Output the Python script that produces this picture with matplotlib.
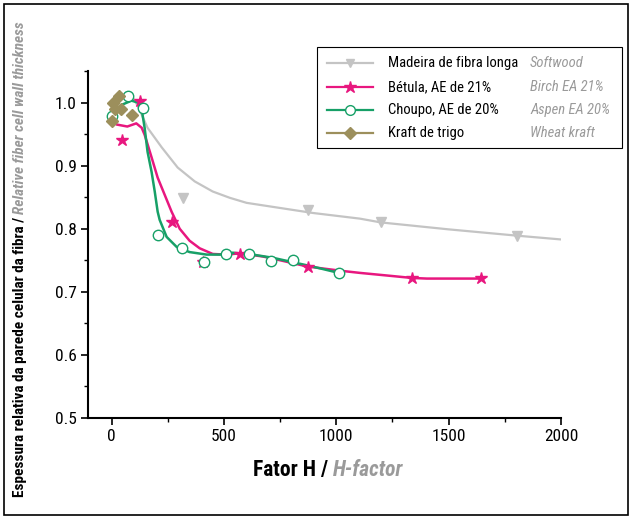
import matplotlib
matplotlib.use("Agg")
import matplotlib.pyplot as plt
from matplotlib.lines import Line2D
from matplotlib.patches import Rectangle
from matplotlib.ticker import MultipleLocator

plt.rcParams['font.family'] = ['Roboto Condensed', 'Liberation Sans Narrow', 'Liberation Sans', 'DejaVu Sans']

# measured points
softwood_h = [320, 875, 1200, 1805]
softwood_y = [0.849, 0.830, 0.810, 0.789]
birch_h = [45, 125, 267, 405, 570, 873, 1336, 1644]
birch_y = [0.941, 1.003, 0.810, 0.748, 0.760, 0.740, 0.722, 0.722]
aspen_h = [4, 71, 138, 205, 312, 410, 508, 610, 708, 806, 1011]
aspen_y = [0.978, 1.010, 0.992, 0.790, 0.770, 0.748, 0.760, 0.760, 0.749, 0.751, 0.730]
wheat_h = [0, 5, 15, 35, 40, 90]
wheat_y = [0.970, 1.000, 0.990, 1.010, 0.990, 0.980]

# fitted curves
softwood_fit_h = [100, 116, 160, 223, 294, 370, 450, 526, 601, 748, 895, 1105, 1198, 1500, 1804, 2000]
softwood_fit_y = [1.005, 0.995, 0.960, 0.929, 0.897, 0.875, 0.859, 0.849, 0.841, 0.833, 0.825,
                  0.816, 0.810, 0.799, 0.789, 0.783]
birch_fit_h = [25, 70, 110, 134, 147, 178, 205, 236, 267, 303, 347, 392, 450, 510, 570, 673,
               750, 873, 1029, 1105, 1250, 1336, 1403, 1500, 1644]
birch_fit_y = [0.965, 0.962, 0.967, 0.960, 0.949, 0.913, 0.881, 0.854, 0.827, 0.800, 0.781,
               0.769, 0.760, 0.759, 0.761, 0.756, 0.750, 0.740, 0.733, 0.730, 0.725, 0.722,
               0.721, 0.721, 0.721]
aspen_fit_h = [20, 49, 89, 116, 134, 147, 160, 178, 192, 205, 214, 245, 290, 347, 423, 481,
               539, 628, 717, 806, 895, 1011]
aspen_fit_y = [0.985, 0.997, 1.003, 1.000, 0.989, 0.960, 0.922, 0.890, 0.859, 0.827, 0.814,
               0.787, 0.771, 0.763, 0.759, 0.759, 0.762, 0.759, 0.754, 0.747, 0.740, 0.730]

names_pt = ["Madeira de fibra longa", "Bétula, AE de 21%", "Choupo, AE de 20%", "Kraft de trigo"]
names_en = ["Softwood", "Birch EA 21%", "Aspen EA 20%", "Wheat kraft"]

c_soft = '#c4c4c4'
c_birch = '#e8177f'
c_aspen = '#17a067'
c_wheat = '#9c8f5c'
c_en = '#9a9a9a'

W, H = 632, 519
fig = plt.figure(figsize=(W / 100, H / 100), dpi=100)
ax = fig.add_axes([88 / W, 1 - 418 / H, (561 - 88) / W, (418 - 71) / H])

ax.plot(softwood_fit_h, softwood_fit_y, color=c_soft, lw=1.6, zorder=2)
ax.plot(softwood_h, softwood_y, 'v', color=c_soft, ms=7, zorder=2)
ax.plot(birch_fit_h, birch_fit_y, color=c_birch, lw=1.8, zorder=3)
ax.plot(aspen_fit_h, aspen_fit_y, color=c_aspen, lw=1.8, zorder=4)
ax.plot(birch_h, birch_y, '*', color=c_birch, ms=9, zorder=5)
ax.plot(aspen_h, aspen_y, 'o', mfc='white', mec=c_aspen, mew=1.0, ms=7.5, zorder=6)
ax.plot(wheat_h, wheat_y, 'D', color=c_wheat, ms=6.5, zorder=7)

ax.set_xlim(-105, 2000)
ax.set_ylim(0.5, 1.05)
ax.xaxis.set_major_locator(MultipleLocator(500))
ax.xaxis.set_minor_locator(MultipleLocator(250))
ax.yaxis.set_major_locator(MultipleLocator(0.1))
ax.yaxis.set_minor_locator(MultipleLocator(0.05))
ax.yaxis.set_major_formatter(plt.FuncFormatter(lambda v, p: f"{v:.1f}"))
for s in ['top', 'right']:
    ax.spines[s].set_visible(False)
for s in ['left', 'bottom']:
    ax.spines[s].set_linewidth(1.5)
ax.tick_params(which='major', direction='out', length=5, width=1.2, labelsize=12.5, pad=3)
ax.tick_params(which='minor', direction='out', length=3, width=1.0)

# legend drawn by hand: two text columns per row
def fx(px):
    return px / W

def fy(py):
    return 1 - py / H

fig.add_artist(Rectangle((fx(317), fy(148)), fx(622) - fx(317), fy(47) - fy(148),
                         transform=fig.transFigure, fill=False, ec='black', lw=0.8))
styles = [dict(color=c_soft, marker='v', ms=6),
          dict(color=c_birch, marker='*', ms=9),
          dict(color=c_aspen, marker='o', mfc='white', mec=c_aspen, ms=7),
          dict(color=c_wheat, marker='D', ms=6)]
rows = [63, 87, 110, 133]
for st, py, pt, en in zip(styles, rows, names_pt, names_en):
    fig.add_artist(Line2D([fx(327), fx(350), fx(373)], [fy(py)] * 3, transform=fig.transFigure,
                          lw=1.6, markevery=[1], **st))
    fig.text(fx(388), fy(py), pt, fontsize=10.5, va='center', ha='left')
    fig.text(fx(530), fy(py), en, fontsize=10.5, va='center', ha='left', style='italic', color=c_en)

# two-style axis titles
fig.canvas.draw()
renderer = fig.canvas.get_renderer()

t1 = fig.text(0, fy(470), "Fator H / ", fontsize=15.5, fontweight='bold', va='center', ha='left')
t2 = fig.text(0, fy(470), "H-factor", fontsize=15.5, fontweight='bold', style='italic',
              color=c_en, va='center', ha='left')
w1 = t1.get_window_extent(renderer).width
w2 = t2.get_window_extent(renderer).width
x0 = 328 - (w1 + w2) / 2
t1.set_x(x0 / W)
t2.set_x((x0 + w1) / W)

y1 = fig.text(fx(20), 0, "Espessura relativa da parede celular da fibra / ", fontsize=11,
              fontweight='bold', rotation=90, rotation_mode='anchor', va='center', ha='left')
y2 = fig.text(fx(20), 0, "Relative fiber cell wall thickness", fontsize=11, fontweight='bold',
              style='italic', color=c_en, rotation=90, rotation_mode='anchor', va='center', ha='left')
h1 = y1.get_window_extent(renderer).height
h2 = y2.get_window_extent(renderer).height
yb = 260 - (h1 + h2) / 2
y1.set_y(yb / H)
y2.set_y((yb + h1) / H)

fig.add_artist(Rectangle((fx(4), fy(515)), fx(628) - fx(4), fy(4) - fy(515),
                         transform=fig.transFigure, fill=False, ec='black', lw=1.2))

fig.savefig("out.png", dpi=100)
